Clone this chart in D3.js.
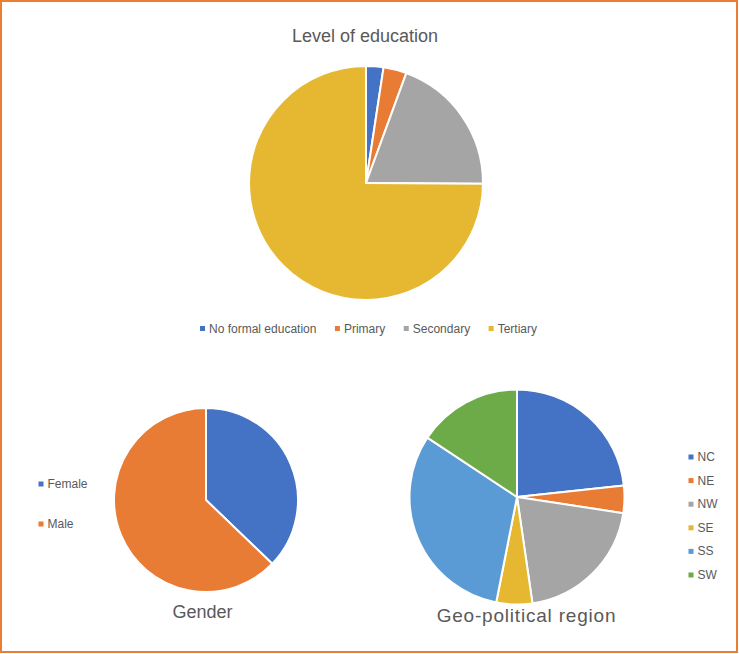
<!DOCTYPE html>
<html>
<head>
<meta charset="utf-8">
<script src="https://cdn.jsdelivr.net/npm/d3@7/dist/d3.min.js"></script>
<style>
  html, body { margin: 0; padding: 0; background: #fff; }
  svg { display: block; }
  text { font-family: "Liberation Sans", Arial, sans-serif; fill: #595959; }
</style>
</head>
<body>
<script>
const eduTitle = "Level of education";
const eduCategories = ["No formal education", "Primary", "Secondary", "Tertiary"];
const eduValues = [2.4, 3.2, 19.5, 74.9];
const eduColors = ["#4472C4", "#E97C35", "#A5A5A5", "#E6B831"];

const genderTitle = "Gender";
const genderCategories = ["Female", "Male"];
const genderValues = [37.2, 62.8];
const genderColors = ["#4472C4", "#E97C35"];

const regionTitle = "Geo-political region";
const regionCategories = ["NC", "NE", "NW", "SE", "SS", "SW"];
const regionValues = [23.3, 4.1, 20.3, 5.4, 31.2, 15.7];
const regionColors = ["#4472C4", "#E97C35", "#A5A5A5", "#E6B831", "#5B9BD5", "#6DAA48"];

const W = 739, H = 654;
const svg = d3.select("body").append("svg").attr("width", W).attr("height", H);

svg.append("rect").attr("x", 1).attr("y", 1).attr("width", W - 3).attr("height", H - 3)
  .attr("fill", "#fff").attr("stroke", "#ED7D31").attr("stroke-width", 2);

function drawPie(cats, vals, colors, cx, cy, r) {
  const pie = d3.pie().sort(null).value(d => d.v);
  const arc = d3.arc().innerRadius(0).outerRadius(r);
  const color = d3.scaleOrdinal().domain(cats).range(colors);
  const data = cats.map((c, i) => ({ c, v: vals[i] }));
  const g = svg.append("g").attr("transform", `translate(${cx},${cy})`);
  g.selectAll("path").data(pie(data)).join("path")
    .attr("d", arc)
    .attr("fill", d => color(d.data.c))
    .attr("stroke", "#fff").attr("stroke-width", 2).attr("stroke-linejoin", "round");
  return color;
}

// Education pie
const eduColor = drawPie(eduCategories, eduValues, eduColors, 366, 183, 117);
svg.append("text").attr("x", 365).attr("y", 42).attr("text-anchor", "middle")
  .attr("font-size", 18).text(eduTitle);

// horizontal legend
(function () {
  const g = svg.append("g");
  const items = g.selectAll("g").data(eduCategories).join("g");
  items.append("rect").attr("width", 5).attr("height", 5).attr("y", -6.5)
    .attr("fill", d => eduColor(d));
  items.append("text").attr("x", 9).attr("y", 0).attr("font-size", 12).text(d => d);
  let x = 0;
  const xs = [];
  items.each(function () {
    const w = d3.select(this).select("text").node().getComputedTextLength();
    xs.push(x);
    x += 9 + w + 18.5;
  });
  const total = x - 18.5;
  const start = 368.5 - total / 2;
  items.attr("transform", (d, i) => `translate(${start + xs[i]},${332.5})`);
})();

// Gender pie
const genderColor = drawPie(genderCategories, genderValues, genderColors, 206, 500, 92);
svg.append("text").attr("x", 202.5).attr("y", 618).attr("text-anchor", "middle")
  .attr("font-size", 18).text(genderTitle);
svg.append("g").selectAll("g").data(genderCategories).join("g")
  .attr("transform", (d, i) => `translate(38.5,${488 + i * 40})`)
  .call(s => {
    s.append("rect").attr("width", 5).attr("height", 5).attr("y", -6.5).attr("fill", d => genderColor(d));
    s.append("text").attr("x", 9).attr("font-size", 12).text(d => d);
  });

// Region pie
const regionColor = drawPie(regionCategories, regionValues, regionColors, 517, 497, 107.5);
svg.append("text").attr("x", 526.5).attr("y", 621.5).attr("text-anchor", "middle")
  .attr("font-size", 19).attr("letter-spacing", 0.8).text(regionTitle);
svg.append("g").selectAll("g").data(regionCategories).join("g")
  .attr("transform", (d, i) => `translate(688.5,${461 + i * 23.6})`)
  .call(s => {
    s.append("rect").attr("width", 5).attr("height", 5).attr("y", -6.5).attr("fill", d => regionColor(d));
    s.append("text").attr("x", 9).attr("font-size", 12).text(d => d);
  });
</script>
</body>
</html>
